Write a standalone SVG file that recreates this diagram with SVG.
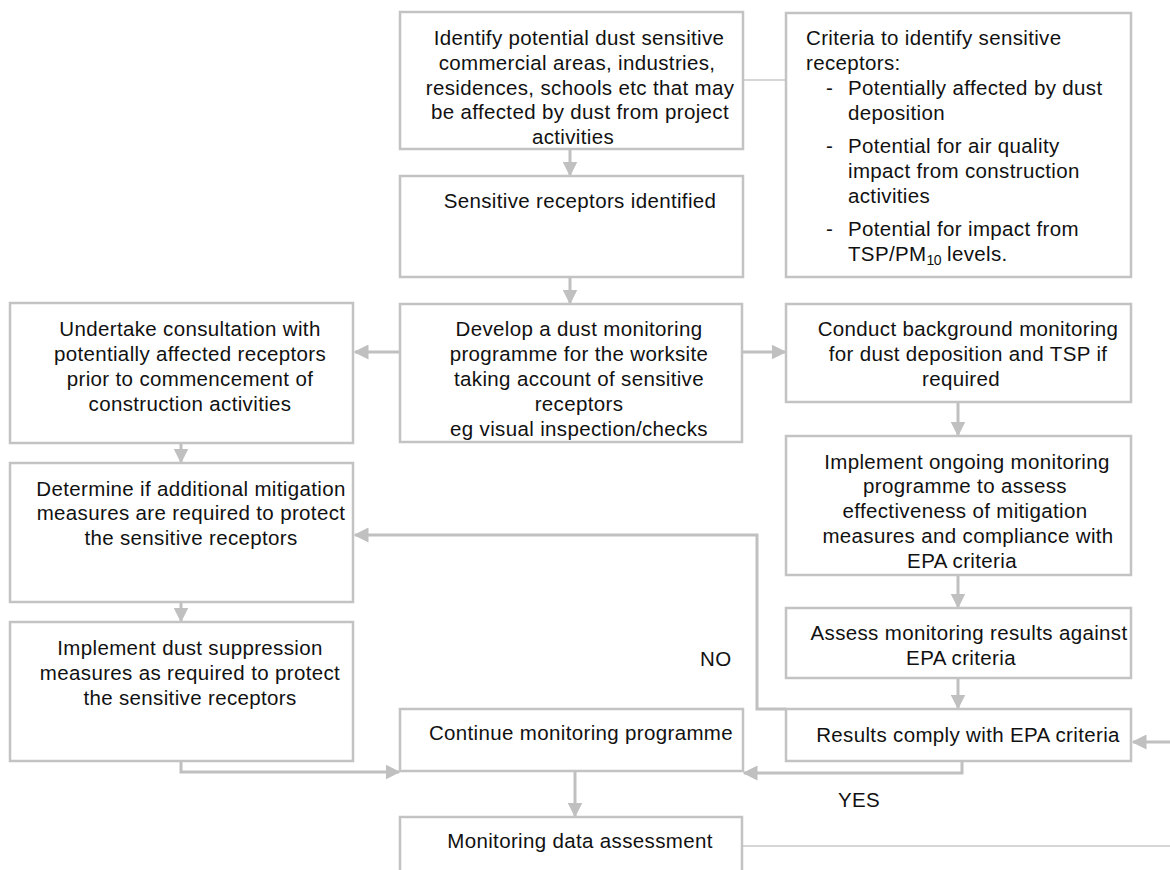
<svg xmlns="http://www.w3.org/2000/svg" width="1170" height="870" viewBox="0 0 1170 870">
<defs>
<style>
.box{fill:#fff;stroke:#c3c3c3;stroke-width:2.5}
.t{font-family:"Liberation Sans",Arial,sans-serif;font-size:20.5px;letter-spacing:0.35px;fill:#111}
.c{text-anchor:middle}
.con{fill:none;stroke:#c0c0c0;stroke-width:3}
.thin{fill:none;stroke:#c8c8c8;stroke-width:1.5}
</style>
<marker id="ah" viewBox="0 0 10 10" refX="9" refY="5" markerWidth="5" markerHeight="5" orient="auto" markerUnits="strokeWidth">
<path d="M0,0 L10,5 L0,10 Z" fill="#c0c0c0"/>
</marker>
</defs>
<rect width="1170" height="870" fill="#fff"/>
<g id="connectors">
<line class="thin" x1="743" y1="80" x2="786" y2="80"/>
<line class="con" x1="570" y1="149" x2="570" y2="175" marker-end="url(#ah)"/>
<line class="con" x1="570" y1="277" x2="570" y2="303" marker-end="url(#ah)"/>
<line class="con" x1="400" y1="352" x2="355" y2="352" marker-end="url(#ah)"/>
<line class="con" x1="742" y1="352" x2="785" y2="352" marker-end="url(#ah)"/>
<line class="con" x1="181" y1="443" x2="181" y2="462" marker-end="url(#ah)"/>
<line class="con" x1="181" y1="602" x2="181" y2="621" marker-end="url(#ah)"/>
<line class="con" x1="958" y1="402" x2="958" y2="435" marker-end="url(#ah)"/>
<line class="con" x1="958" y1="575" x2="958" y2="607" marker-end="url(#ah)"/>
<line class="con" x1="958" y1="678" x2="958" y2="708" marker-end="url(#ah)"/>
<polyline class="con" points="786,709 757,709 757,535 355,535" marker-end="url(#ah)"/>
<polyline class="con" points="181,761 181,772 399,772" marker-end="url(#ah)"/>
<polyline class="con" points="962,761 962,773 744,773" marker-end="url(#ah)"/>
<line class="con" x1="1170" y1="742" x2="1133" y2="742" marker-end="url(#ah)"/>
<line class="con" x1="575" y1="771" x2="575" y2="816" marker-end="url(#ah)"/>
<line class="thin" x1="742" y1="846" x2="1170" y2="846"/>
</g>
<g id="n1">
<rect class="box" x="400" y="12" width="343" height="137"/>
<text class="t c" x="579" y="45">Identify potential dust sensitive</text>
<text class="t c" x="577" y="70">commercial areas, industries,</text>
<text class="t c" x="580" y="95">residences, schools etc that may</text>
<text class="t c" x="580" y="119">be affected by dust from project</text>
<text class="t c" x="573" y="144">activities</text>
</g>
<g id="n2">
<rect class="box" x="400" y="176" width="343" height="101"/>
<text class="t c" x="580" y="208">Sensitive receptors identified</text>
</g>
<g id="criteria">
<rect class="box" x="786" y="13" width="345" height="264"/>
<text class="t" x="806" y="45">Criteria to identify sensitive</text>
<text class="t" x="806" y="70">receptors:</text>
<text class="t" x="826" y="95">-</text>
<text class="t" x="848" y="95">Potentially affected by dust</text>
<text class="t" x="848" y="120">deposition</text>
<text class="t" x="826" y="153">-</text>
<text class="t" x="848" y="153">Potential for air quality</text>
<text class="t" x="848" y="178">impact from construction</text>
<text class="t" x="848" y="203">activities</text>
<text class="t" x="826" y="236">-</text>
<text class="t" x="848" y="236">Potential for impact from</text>
<text class="t" x="848" y="261">TSP/PM<tspan font-size="14" dy="4" letter-spacing="-0.5">10</tspan><tspan dy="-4"> levels.</tspan></text>
</g>
<g id="n3">
<rect class="box" x="400" y="304" width="342" height="138"/>
<text class="t c" x="579" y="336">Develop a dust monitoring</text>
<text class="t c" x="579" y="361">programme for the worksite</text>
<text class="t c" x="579" y="386">taking account of sensitive</text>
<text class="t c" x="579" y="411">receptors</text>
<text class="t c" x="579" y="436">eg visual inspection/checks</text>
</g>
<g id="n4">
<rect class="box" x="10" y="303" width="343" height="140"/>
<text class="t c" x="190" y="336">Undertake consultation with</text>
<text class="t c" x="190" y="361">potentially affected receptors</text>
<text class="t c" x="190" y="386">prior to commencement of</text>
<text class="t c" x="190" y="411">construction activities</text>
</g>
<g id="n5">
<rect class="box" x="10" y="463" width="343" height="139"/>
<text class="t c" x="191" y="496">Determine if additional mitigation</text>
<text class="t c" x="191" y="520">measures are required to protect</text>
<text class="t c" x="191" y="545">the sensitive receptors</text>
</g>
<g id="n6">
<rect class="box" x="10" y="622" width="343" height="139"/>
<text class="t c" x="190" y="655">Implement dust suppression</text>
<text class="t c" x="190" y="680">measures as required to protect</text>
<text class="t c" x="190" y="705">the sensitive receptors</text>
</g>
<g id="n7">
<rect class="box" x="786" y="304" width="345" height="98"/>
<text class="t c" x="968" y="336">Conduct background monitoring</text>
<text class="t c" x="968" y="361">for dust deposition and TSP if</text>
<text class="t c" x="961" y="386">required</text>
</g>
<g id="n8">
<rect class="box" x="786" y="436" width="345" height="139"/>
<text class="t c" x="967" y="469">Implement ongoing monitoring</text>
<text class="t c" x="965" y="493">programme to assess</text>
<text class="t c" x="965" y="518">effectiveness of mitigation</text>
<text class="t c" x="968" y="543">measures and compliance with</text>
<text class="t c" x="962" y="568">EPA criteria</text>
</g>
<g id="n9">
<rect class="box" x="786" y="608" width="345" height="70"/>
<text class="t c" x="969" y="640">Assess monitoring results against</text>
<text class="t c" x="961" y="665">EPA criteria</text>
</g>
<g id="n10">
<rect class="box" x="786" y="709" width="345" height="52"/>
<text class="t c" x="968" y="742">Results comply with EPA criteria</text>
</g>
<g id="n11">
<rect class="box" x="400" y="709" width="343" height="62"/>
<text class="t c" x="581" y="740">Continue monitoring programme</text>
</g>
<g id="n12">
<rect class="box" x="400" y="817" width="342" height="70"/>
<text class="t c" x="580" y="848">Monitoring data assessment</text>
</g>
<g id="labels">
<text class="t" x="700" y="666">NO</text>
<text class="t" x="838" y="807">YES</text>
</g>
</svg>
